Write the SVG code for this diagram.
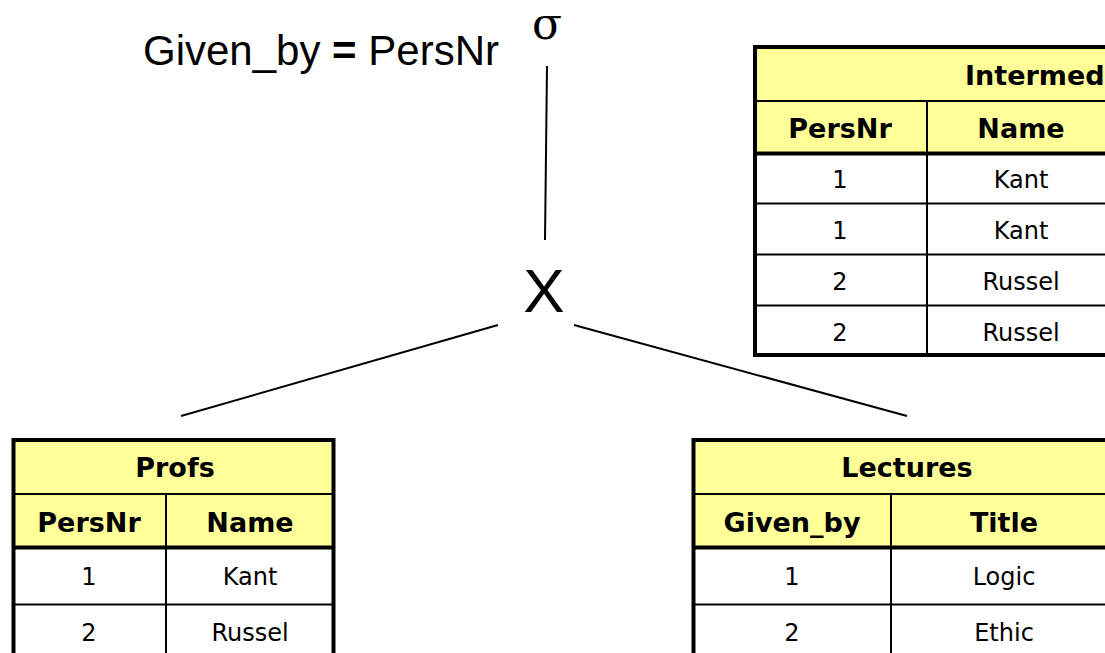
<svg xmlns="http://www.w3.org/2000/svg" width="1105" height="653" viewBox="0 0 1105 653">
<style>
.hdr{fill:#FFFF99}
.cell{fill:#FFFFFF}
.thick{stroke:#000;stroke-width:4;fill:none}
.thin{stroke:#000;stroke-width:2;fill:none}
.tb{font-family:"DejaVu Sans",Verdana,sans-serif;font-size:27px;font-weight:bold;text-anchor:middle;fill:#000}
.td{font-family:"DejaVu Sans",Verdana,sans-serif;font-size:24px;text-anchor:middle;fill:#000}
.op{font-family:"Liberation Sans",Arial,sans-serif;fill:#000}
.conn{stroke:#000;stroke-width:2;fill:none}
</style>
<rect width="1105" height="653" fill="#fff"/>
<g id="connectors">
<line class="conn" x1="547" y1="66" x2="545" y2="240"/>
<line class="conn" x1="498" y1="325" x2="181" y2="416"/>
<line class="conn" x1="574" y1="325" x2="907" y2="416"/>
</g>
<g id="selection">
<text class="op" x="143" y="65" font-size="42">Given_by <tspan font-weight="bold">=</tspan> PersNr</text>
<text x="547" y="39" font-family="'DejaVu Serif','Liberation Serif',serif" font-size="44" text-anchor="middle">σ</text>
</g>
<g id="product">
<text class="op" x="544" y="312" font-size="62" text-anchor="middle">X</text>
</g>
<g id="intermed">
<rect class="hdr" x="755" y="47" width="360" height="106"/>
<rect class="cell" x="755" y="153" width="360" height="202"/>
<line class="thin" x1="755" y1="101" x2="1110" y2="101"/>
<line class="thin" x1="927" y1="101" x2="927" y2="355"/>
<line class="thin" x1="755" y1="203.5" x2="1110" y2="203.5"/>
<line class="thin" x1="755" y1="254.5" x2="1110" y2="254.5"/>
<line class="thin" x1="755" y1="305.5" x2="1110" y2="305.5"/>
<line class="thick" x1="755" y1="153.5" x2="1110" y2="153.5"/>
<path class="thick" d="M1110 47 H755 V355 H1110"/>
<text class="tb" x="965" y="85" style="text-anchor:start">Intermed</text>
<text class="tb" x="840" y="138">PersNr</text>
<text class="tb" x="1021" y="138">Name</text>
<text class="td" x="840" y="188">1</text><text class="td" x="1021" y="188">Kant</text>
<text class="td" x="840" y="239">1</text><text class="td" x="1021" y="239">Kant</text>
<text class="td" x="840" y="290">2</text><text class="td" x="1021" y="290">Russel</text>
<text class="td" x="840" y="341">2</text><text class="td" x="1021" y="341">Russel</text>
</g>
<g id="profs">
<rect class="hdr" x="13.5" y="440" width="320" height="107"/>
<rect class="cell" x="13.5" y="547" width="320" height="110"/>
<line class="thin" x1="13.5" y1="494" x2="333.5" y2="494"/>
<line class="thin" x1="166" y1="494" x2="166" y2="660"/>
<line class="thin" x1="13.5" y1="604.5" x2="333.5" y2="604.5"/>
<line class="thick" x1="13.5" y1="547.5" x2="333.5" y2="547.5"/>
<path class="thick" d="M13.5 660 V440 H333.5 V660"/>
<text class="tb" x="175" y="477">Profs</text>
<text class="tb" x="89" y="532">PersNr</text>
<text class="tb" x="250" y="532">Name</text>
<text class="td" x="89" y="585">1</text><text class="td" x="250" y="585">Kant</text>
<text class="td" x="89" y="641">2</text><text class="td" x="250" y="641">Russel</text>
</g>
<g id="lectures">
<rect class="hdr" x="693.5" y="440" width="420" height="107"/>
<rect class="cell" x="693.5" y="547" width="420" height="110"/>
<line class="thin" x1="693.5" y1="494" x2="1110" y2="494"/>
<line class="thin" x1="891" y1="494" x2="891" y2="660"/>
<line class="thin" x1="693.5" y1="604.5" x2="1110" y2="604.5"/>
<line class="thick" x1="693.5" y1="547.5" x2="1110" y2="547.5"/>
<path class="thick" d="M693.5 660 V440 H1110"/>
<text class="tb" x="907" y="477">Lectures</text>
<text class="tb" x="792" y="532">Given_by</text>
<text class="tb" x="1004" y="532">Title</text>
<text class="td" x="792" y="585">1</text><text class="td" x="1004" y="585">Logic</text>
<text class="td" x="792" y="641">2</text><text class="td" x="1004" y="641">Ethic</text>
</g>
</svg>
